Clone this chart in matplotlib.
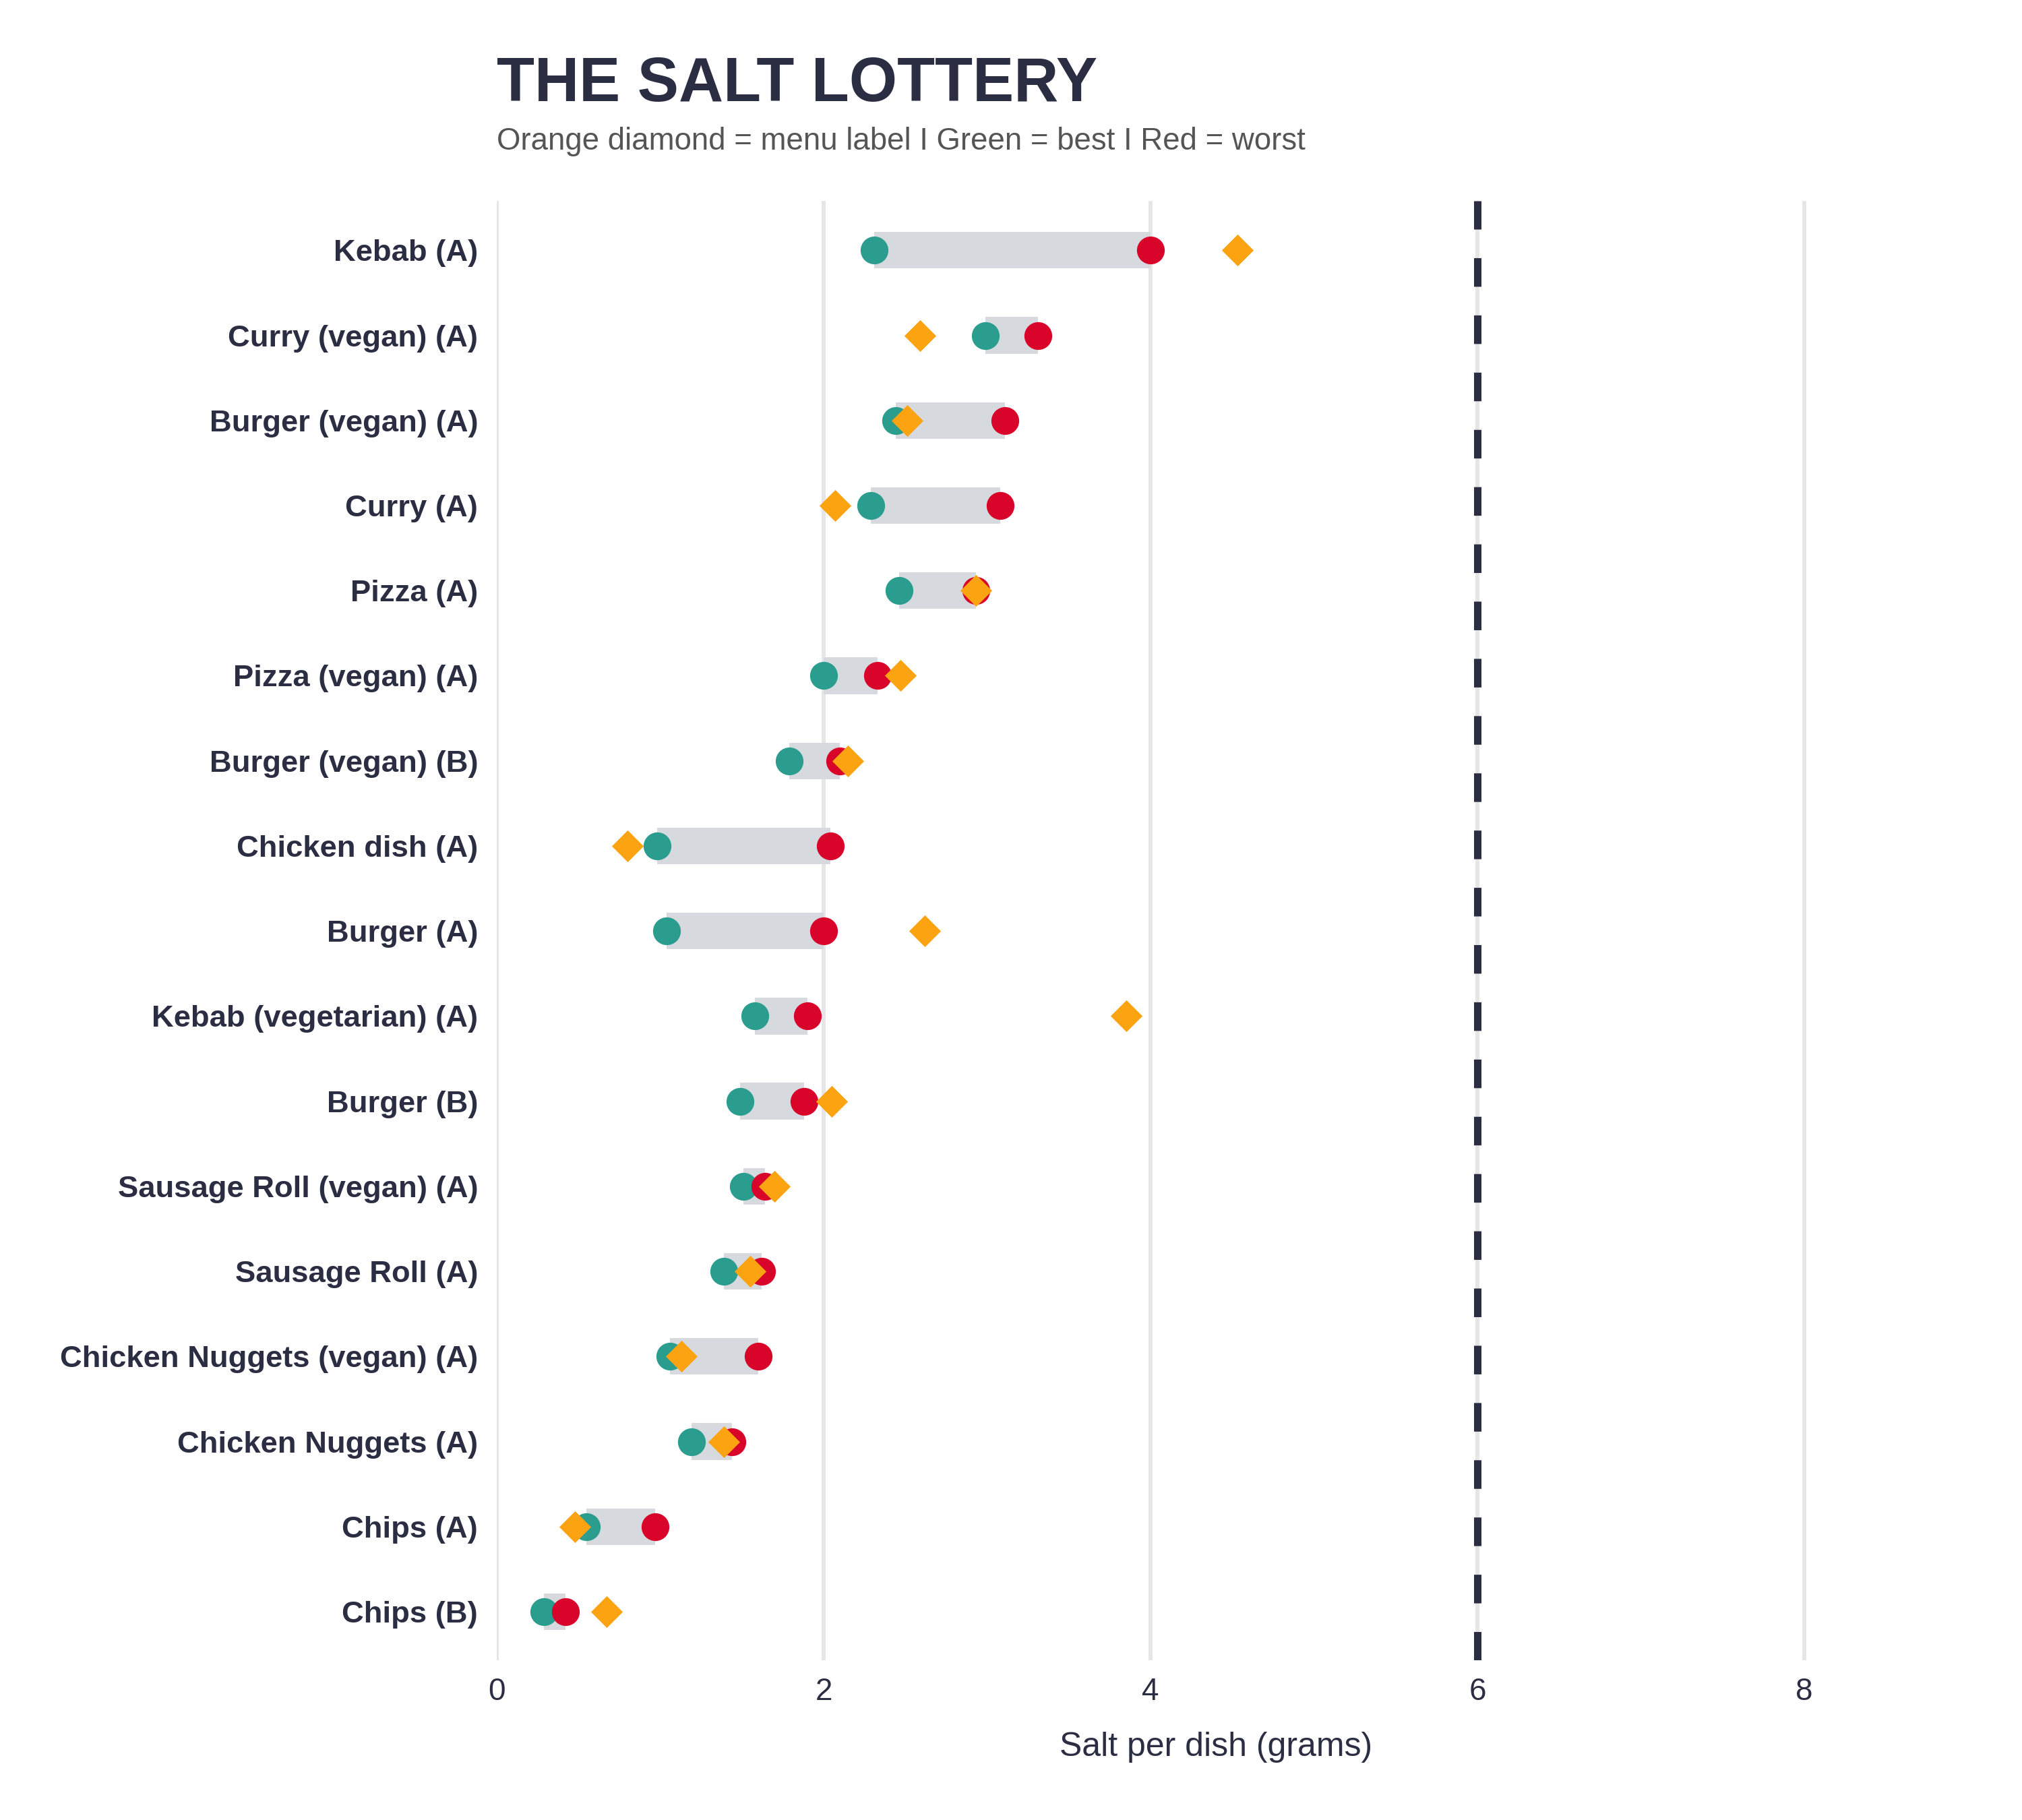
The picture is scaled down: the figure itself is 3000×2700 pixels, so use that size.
import matplotlib
matplotlib.use("Agg")
import matplotlib.pyplot as plt
import numpy as np

plt.rcParams['font.family'] = ['Liberation Sans', 'DejaVu Sans']

dishes = ["Kebab (A)", "Curry (vegan) (A)", "Burger (vegan) (A)", "Curry (A)", "Pizza (A)",
          "Pizza (vegan) (A)", "Burger (vegan) (B)", "Chicken dish (A)", "Burger (A)",
          "Kebab (vegetarian) (A)", "Burger (B)", "Sausage Roll (vegan) (A)", "Sausage Roll (A)",
          "Chicken Nuggets (vegan) (A)", "Chicken Nuggets (A)", "Chips (A)", "Chips (B)"]
best = [2.31, 2.99, 2.44, 2.29, 2.46, 2.00, 1.79, 0.98, 1.04, 1.58, 1.49, 1.51, 1.39,
        1.06, 1.19, 0.55, 0.29]
worst = [4.00, 3.31, 3.11, 3.08, 2.93, 2.33, 2.10, 2.04, 2.00, 1.90, 1.88, 1.64, 1.62,
         1.60, 1.44, 0.97, 0.42]
label = [4.53, 2.59, 2.51, 2.07, 2.93, 2.47, 2.15, 0.80, 2.62, 3.85, 2.05, 1.70, 1.55,
         1.13, 1.39, 0.48, 0.67]
limit = 6
xticks = [0, 2, 4, 6, 8]

NAVY = "#2b2d42"
GREEN = "#2a9d8f"
RED = "#d90429"
ORANGE = "#fca311"
BARGRAY = "#d6d9de"

fig = plt.figure(figsize=(10, 9), dpi=300)
ax = fig.add_axes([0.2457, 0.0878, 0.957 - 0.2457, 0.8896 - 0.0878])

y = np.arange(len(dishes))
best_a = np.array(best)
worst_a = np.array(worst)

ax.barh(y, worst_a - best_a, left=best_a, height=0.43, color=BARGRAY, zorder=2)
ax.scatter(best, y, s=98, color=GREEN, zorder=3, linewidths=0)
ax.scatter(worst, y, s=98, color=RED, zorder=4, linewidths=0)
ax.scatter(label, y, s=64, marker='D', color=ORANGE, zorder=5, linewidths=0)

ax.axvline(limit, color=NAVY, lw=2.64, dashes=(3.86, 3.86), dash_capstyle='butt', zorder=6)

ax.set_xlim(0, 8.8)
ax.set_ylim(len(dishes) - 1 + 0.57, -0.58)
ax.set_xticks(xticks)
ax.set_xticklabels([str(t) for t in xticks])
ax.set_yticks(y)
ax.set_yticklabels(dishes)
ax.grid(axis='x', color="#e6e6e6", lw=1.44, zorder=0)
ax.grid(axis='y', visible=False)
ax.set_axisbelow(True)
for s in ax.spines.values():
    s.set_visible(False)
ax.tick_params(axis='both', length=0)
ax.tick_params(axis='y', pad=6.7, labelsize=10.9, labelcolor=NAVY)
ax.tick_params(axis='x', pad=6.0, labelsize=11.0, labelcolor=NAVY)
for t in ax.get_yticklabels():
    t.set_fontweight('bold')
ax.set_xlabel("Salt per dish (grams)", fontsize=12.0, color=NAVY, labelpad=9)

fig.text(0.2457, 0.9444, "THE SALT LOTTERY", fontsize=22.0, fontweight='bold', color=NAVY,
         ha='left', va='baseline')
fig.text(0.2457, 0.9178, "Orange diamond = menu label I Green = best I Red = worst",
         fontsize=10.95, color="#555555", ha='left', va='baseline')

fig.savefig("out.png", dpi=300, facecolor='white')
